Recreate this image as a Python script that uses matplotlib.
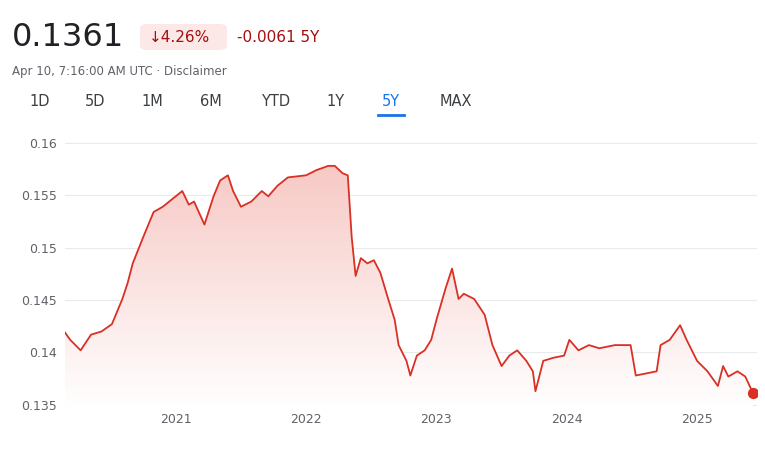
import matplotlib
matplotlib.use("Agg")
import matplotlib.pyplot as plt
import numpy as np
from matplotlib.patches import Polygon

# fractional years and price values
years = [2020.15, 2020.19, 2020.27, 2020.35, 2020.43, 2020.51, 2020.59, 2020.63, 2020.67, 2020.75,
         2020.83, 2020.90, 2021.00, 2021.05, 2021.10, 2021.14, 2021.22, 2021.29, 2021.34, 2021.40,
         2021.44, 2021.50, 2021.58, 2021.66, 2021.71, 2021.78, 2021.86, 2022.00, 2022.08, 2022.17,
         2022.22, 2022.28, 2022.32, 2022.35, 2022.38, 2022.42, 2022.47, 2022.52, 2022.57, 2022.63,
         2022.68, 2022.71, 2022.77, 2022.80, 2022.85, 2022.91, 2022.96, 2023.00, 2023.07, 2023.12,
         2023.17, 2023.21, 2023.29, 2023.37, 2023.43, 2023.50, 2023.56, 2023.62, 2023.69, 2023.74,
         2023.76, 2023.82, 2023.90, 2023.98, 2024.02, 2024.09, 2024.17, 2024.25, 2024.37, 2024.49,
         2024.53, 2024.61, 2024.69, 2024.72, 2024.79, 2024.87, 2024.92, 2025.00, 2025.08, 2025.16,
         2025.20, 2025.24, 2025.31, 2025.37, 2025.43]
values = [0.1419, 0.1412, 0.1402, 0.1417, 0.1420, 0.1427, 0.1451, 0.1466, 0.1485, 0.1510,
          0.1534, 0.1539, 0.1549, 0.1554, 0.1541, 0.1544, 0.1522, 0.1549, 0.1564, 0.1569,
          0.1554, 0.1539, 0.1544, 0.1554, 0.1549, 0.1559, 0.1567, 0.1569, 0.1574, 0.1578,
          0.1578, 0.1571, 0.1569, 0.1510, 0.1473, 0.1490, 0.1485, 0.1488, 0.1476, 0.1451,
          0.1431, 0.1407, 0.1392, 0.1378, 0.1397, 0.1402, 0.1412, 0.1431, 0.1461, 0.1480,
          0.1451, 0.1456, 0.1451, 0.1436, 0.1407, 0.1387, 0.1397, 0.1402, 0.1392, 0.1382,
          0.1363, 0.1392, 0.1395, 0.1397, 0.1412, 0.1402, 0.1407, 0.1404, 0.1407, 0.1407,
          0.1378, 0.1380, 0.1382, 0.1407, 0.1412, 0.1426, 0.1412, 0.1392, 0.1382, 0.1368,
          0.1387, 0.1377, 0.1382, 0.1377, 0.1361]
year_ticks = [2021, 2022, 2023, 2024, 2025]
y_ticks = [0.135, 0.14, 0.145, 0.15, 0.155, 0.16]
y_labels = ["0.135", "0.14", "0.145", "0.15", "0.155", "0.16"]
tabs = ["1D", "5D", "1M", "6M", "YTD", "1Y", "5Y", "MAX"]
tab_x = [40, 95, 152, 211, 276, 336, 391, 456]

RED = "#d93025"

fig = plt.figure(figsize=(7.65, 4.51), dpi=100)
fig.patch.set_facecolor("white")

# header
fig.text(12 / 765, 1 - 38 / 451, "0.1361", fontsize=23, color="#202124", va="center")
fig.patches.append(matplotlib.patches.FancyBboxPatch(
    (140 / 765, 1 - 50 / 451), 87 / 765, 26 / 451, boxstyle="round,pad=0,rounding_size=0.01",
    transform=fig.transFigure, facecolor="#fce8e6", edgecolor="none"))
fig.text(149 / 765, 1 - 37 / 451, "↓4.26%", fontsize=11, color="#a50e0e", va="center")
fig.text(237 / 765, 1 - 37 / 451, "-0.0061 5Y", fontsize=11, color="#a50e0e", va="center")
fig.text(12 / 765, 1 - 72 / 451, "Apr 10, 7:16:00 AM UTC · Disclaimer", fontsize=8.5,
         color="#5f6368", va="center")
for t, x in zip(tabs, tab_x):
    fig.text(x / 765, 1 - 102 / 451, t, fontsize=10.5, ha="center", va="center",
             color="#1a73e8" if t == "5Y" else "#3c4043")
fig.add_artist(plt.Line2D([378 / 765, 404 / 765], [1 - 115 / 451] * 2,
                          transform=fig.transFigure, color="#1a73e8", lw=2))

ax = fig.add_axes([65 / 765, 1 - 408 / 451, 692 / 765, 283 / 451])
ax.set_xlim(years[0], 2025.46)
ylo, yhi = 0.1347, 0.1617
ax.set_ylim(ylo, yhi)

# gradient fill under the line
grad = np.linspace(0, 1, 256).reshape(-1, 1)
cmap = matplotlib.colors.LinearSegmentedColormap.from_list("g", ["#ffffff", "#f7c9c5"])
im = ax.imshow(grad, extent=[years[0], years[-1], ylo, max(values)], origin="lower",
               aspect="auto", cmap=cmap, zorder=1)
poly = Polygon(list(zip(years, values)) + [(years[-1], ylo), (years[0], ylo)],
               closed=True, transform=ax.transData)
im.set_clip_path(poly)

ax.plot(years, values, color=RED, lw=1.3, zorder=3)
ax.scatter([years[-1]], [values[-1]], s=50, color=RED, zorder=4)

for yt in y_ticks:
    ax.axhline(yt, color="#e8eaed", lw=0.8, zorder=0)
ax.set_yticks(y_ticks)
ax.set_yticklabels(y_labels)
ax.set_xticks(year_ticks)
ax.set_xticklabels([str(y) for y in year_ticks])
ax.tick_params(length=0, labelsize=9, colors="#5f6368")
ax.tick_params(axis="y", pad=6)
for s in ax.spines.values():
    s.set_visible(False)

fig.savefig("out.png", dpi=100)
